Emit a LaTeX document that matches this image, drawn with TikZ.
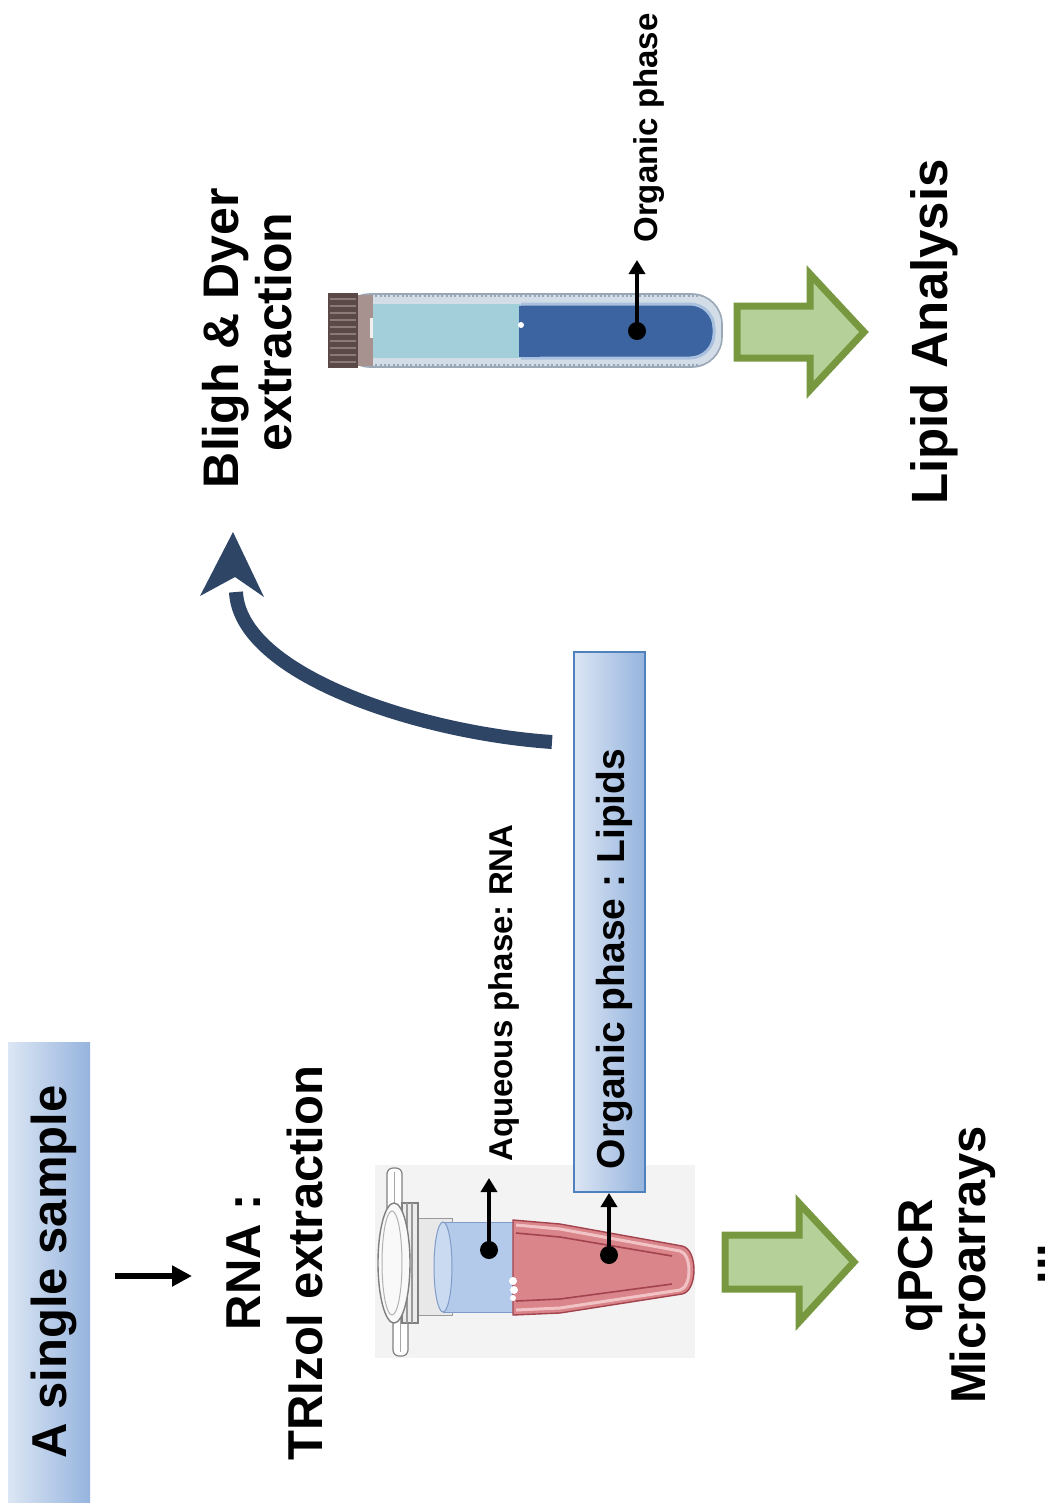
\documentclass[tikz,border=0pt]{standalone}
\usepackage{fontspec}
\setmainfont{Liberation Sans}
\usetikzlibrary{arrows.meta,calc}
\frenchspacing

\definecolor{boxlight}{HTML}{DCE6F4}
\definecolor{boxdark}{HTML}{96B4DE}
\definecolor{boxedge}{HTML}{4F81BD}
\definecolor{navyarrow}{HTML}{2E4566}
\definecolor{greenfill}{HTML}{B5D199}
\definecolor{greenedge}{HTML}{77983F}
\definecolor{eppbg}{HTML}{F3F3F3}
\definecolor{aqblue}{HTML}{B3CAEA}
\definecolor{aqedge}{HTML}{7F9BC8}
\definecolor{redfill}{HTML}{D98589}
\definecolor{rededge}{HTML}{A3434E}
\definecolor{redrim}{HTML}{F1C3C5}
\definecolor{capdark}{HTML}{5B4947}
\definecolor{caprib}{HTML}{8C7A78}
\definecolor{caplight}{HTML}{A8928F}
\definecolor{glass}{HTML}{D3DDE8}
\definecolor{glassedge}{HTML}{9AA7B6}
\definecolor{lightliq}{HTML}{A3CFDA}
\definecolor{darkliq}{HTML}{3C64A0}
\definecolor{darkrim}{HTML}{A9C1DE}

\begin{document}
\begin{tikzpicture}[x=0.5pt,y=-0.5pt,
  vtext/.style={rotate=90, anchor=base, inner sep=0pt, font=\bfseries\fontsize{#1}{#1}\selectfont},
  vtext/.default=24.5pt,
  phasearrow/.style={line width=2pt, -{Triangle[length=7pt,width=8pt]}},
  blockarrow/.style={fill=greenfill, draw=greenedge, line width=3.5pt, line join=miter},
  gradbox/.style={left color=boxlight, right color=boxdark, inner sep=0pt}]
\useasboundingbox (0,0) rectangle (1052,1512);

% ---------- sample box and first step ----------
\node[gradbox, minimum width=41pt, minimum height=230pt] (sample) at (49,1272) {};
\node[vtext] (sampletxt) at (67,1272) {A single sample};

\coordinate (s1) at (115,1276);
\coordinate (s2) at (192,1276);
\draw[line width=3pt, -{Triangle[length=10pt,width=10pt]}] (s1) -- (s2);

\node[vtext] (rna) at (260,1262) {RNA :};
\node[vtext] (trizol) at (322,1263) {TRIzol extraction};

% ---------- TRIzol tube ----------
\fill[eppbg] (375,1165) rectangle (695,1358);
% hinge and tab
\filldraw[fill=white, draw=gray, line width=0.6pt, rounded corners=3pt] (387,1168) rectangle (402,1214);
\draw[gray!70, line width=0.5pt] (394,1172) -- (394,1210);
\filldraw[fill=white, draw=gray, line width=0.6pt, rounded corners=3pt] (393,1308) rectangle (408,1356);
\draw[gray!70, line width=0.5pt] (400,1312) -- (400,1352);
% clear upper tube
\filldraw[fill=gray!18, draw=gray!80, line width=0.5pt] (410,1218) rectangle (452,1315);
% cap rim
\filldraw[fill=gray!15, draw=gray, line width=0.6pt] (402,1203) rectangle (418,1323);
\draw[gray!80, line width=0.6pt] (407,1203) -- (407,1323) (412,1203) -- (412,1323);
\filldraw[fill=white!95!gray, draw=gray, line width=0.7pt] (394,1263) ellipse[x radius=8pt, y radius=30pt];
\draw[gray!60, line width=0.5pt] (392,1263) ellipse[x radius=5pt, y radius=26pt];
% aqueous layer
\filldraw[fill=aqblue, draw=aqedge, line width=0.5pt] (443,1222) rectangle (513,1312);
\filldraw[fill=aqblue!70!white, draw=aqedge, line width=0.5pt] (443,1267) ellipse[x radius=4.5pt, y radius=22.5pt];
% organic layer (cone)
\filldraw[fill=redfill, draw=rededge, line width=0.7pt]
  (513,1220) -- (560,1224) -- (682,1246) .. controls (698,1249) and (698,1291) .. (682,1294)
  -- (560,1313) -- (513,1315) -- cycle;
\draw[redrim, line width=1.5pt] (516,1225) -- (560,1229) -- (680,1251) .. controls (692,1254) and (692,1287) .. (680,1290) -- (560,1308) -- (516,1310);
\draw[rededge, line width=0.8pt] (516,1233) -- (560,1237) -- (672,1256);
\draw[rededge, line width=0.8pt] (516,1301) -- (560,1299) -- (672,1284);
\fill[white] (513,1281) circle[radius=2pt] (514,1290) circle[radius=2pt] (513,1298) circle[radius=1.5pt];

% phase pointers
\coordinate (aqdot) at (489,1250);
\coordinate (aqtip) at (489,1178);
\fill (aqdot) circle[radius=4.5pt];
\draw[phasearrow] (aqdot) -- (aqtip);
\node[vtext=16.5pt] (aqtxt) at (512,993) {Aqueous phase: RNA};

% organic phase box
\node[gradbox, draw=boxedge, line width=1pt, minimum width=35.5pt, minimum height=270pt] (lipids) at (609,922) {};
\node[vtext=19.5pt] (lipidtxt) at (624,959) {Organic phase : Lipids};
\coordinate (orgdot) at (609,1255);
\fill (orgdot) circle[radius=4.5pt];
\draw[phasearrow] (orgdot) -- (orgdot |- lipids.south);

% curved transfer arrow
\coordinate (cstart) at (552,742);
\coordinate (cend) at (236,592);
\coordinate (ctip) at (233,532);
\draw[navyarrow, line width=7pt] (cstart) .. controls (420,733) and (240,675) .. (cend);
\fill[navyarrow] (ctip) -- (264,597) -- (235,577) -- (200,596) -- cycle;

% ---------- Bligh & Dyer ----------
\node[vtext=25pt] (bligh) at (238,338) {Bligh \& Dyer};
\node[vtext=25pt] (bdext) at (291,332) {extraction};

% glass tube
\filldraw[fill=glass, draw=glassedge, line width=0.8pt, rounded corners=15pt] (340,294) rectangle (722,367);
\draw[glassedge, line width=1.2pt, dash pattern=on 1pt off 1.2pt] (340,296) -- (705,296) (340,365) -- (705,365);
\fill[lightliq] (372,304) rectangle (521,358);
\filldraw[fill=darkliq, draw=darkrim, line width=1.5pt, rounded corners=12pt] (521,304) -- (714,304) -- (714,358) -- (521,358);
\fill[darkliq] (519,305.5) rectangle (540,356.5);
\fill[white] (521,325) circle[radius=1.5pt];
% screw cap
\fill[caplight] (356,295) rectangle (373,366);
\fill[white!85!caplight] (370,318) rectangle (373,338);
\fill[capdark] (328,293) rectangle (358,368);
\foreach \yy in {299,306,313,320,327,334,341,348,355,362}
  \draw[caprib, line width=0.6pt] (330,\yy) -- (356,\yy);

\coordinate (bdot) at (637,331);
\coordinate (btip) at (637,260);
\fill (bdot) circle[radius=4.5pt];
\draw[phasearrow] (bdot) -- (btip);
\node[vtext=16.5pt] (orgtxt) at (657,128) {Organic phase};

% ---------- downstream analyses ----------
\draw[blockarrow] (737,306) -- (810,306) -- (810,274) -- (864,332) -- (810,390) -- (810,358) -- (737,358) -- cycle;
\node[vtext=25.5pt] (lipan) at (947,332) {Lipid Analysis};

\draw[blockarrow] (725,1235) -- (799,1235) -- (799,1203) -- (854,1262) -- (799,1322) -- (799,1289) -- (725,1289) -- cycle;
\node[vtext] (qpcr) at (932,1266) {qPCR};
\node[vtext] (micro) at (985,1265) {Microarrays};
\node[vtext] (more) at (1045,1264) {...};
\end{tikzpicture}
\end{document}
